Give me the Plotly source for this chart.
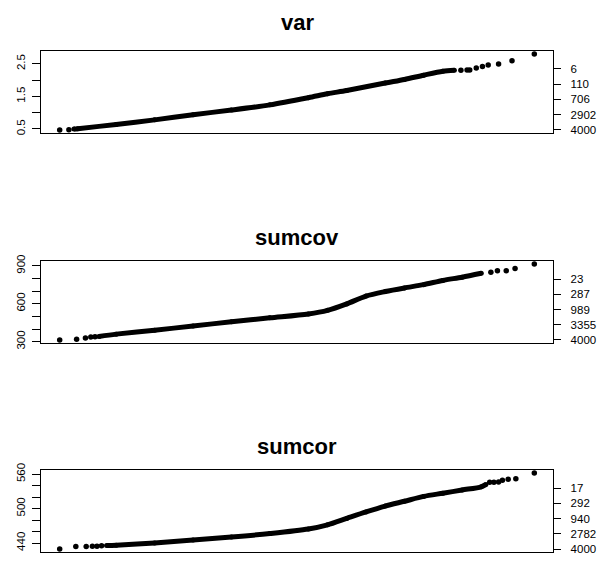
import plotly.graph_objects as go

# ---- data: theoretical normal quantiles (q) vs sorted values ----
# panel "var"
var_band_q = [-3.441, -3.381, -2.789, -2.196, -1.603, -1.011, -0.418, 0.175, 0.471, 0.767,
              1.360, 1.657, 1.953, 2.249, 2.427]
var_band_v = [0.50, 0.51, 0.64, 0.78, 0.94, 1.08, 1.24, 1.46, 1.58, 1.68,
              1.91, 2.02, 2.15, 2.27, 2.30]
var_dot_q = [-3.66, -3.518, 2.528, 2.623, 2.664, 2.765, 2.860, 2.949, 3.109, 3.316, 3.66]
var_dot_v = [0.47, 0.48, 2.30, 2.31, 2.31, 2.37, 2.42, 2.46, 2.49, 2.59, 2.80]
var_left_ticks = [0.5, 1.0, 1.5, 2.0, 2.5]
var_left_labels = ["0.5", "", "1.5", "", "2.5"]
var_right_ticks = [0.473, 0.94, 1.406, 1.873, 2.34]
var_right_labels = ["4000", "2902", "706", "110", "6"]

# panel "sumcov"
sumcov_band_q = [-3.055, -2.789, -2.196, -1.603, -1.011, -0.418, 0.175, 0.471, 0.767, 1.064,
                 1.360, 1.657, 1.953, 2.249, 2.546, 2.842]
sumcov_band_v = [341.4, 359.4, 390.4, 423.8, 457.2, 488.2, 519.0, 547.4, 598.8, 660.6,
                 696.6, 725.0, 750.7, 784.2, 809.9, 840.8]
sumcov_dot_q = [-3.66, -3.399, -3.263, -3.180, -3.115, 2.990, 3.091, 3.227, 3.363, 3.66]
sumcov_dot_v = [313.0, 318.3, 328.6, 336.3, 338.9, 848.5, 861.4, 861.4, 879.4, 914.0]
sumcov_left_ticks = [300, 400, 500, 600, 700, 800, 900]
sumcov_left_labels = ["300", "", "", "600", "", "", "900"]
sumcov_right_ticks = [314, 434, 554, 674, 794]
sumcov_right_labels = ["4000", "3355", "989", "287", "23"]

# panel "sumcor"
sumcor_band_q = [-2.937, -2.789, -2.196, -1.603, -1.011, -0.418, 0.175, 0.471, 0.767, 1.064,
                 1.360, 1.657, 1.953, 2.249, 2.546, 2.842, 2.913]
sumcor_band_v = [435.7, 436.3, 440.2, 445.3, 450.4, 456.5, 464.4, 471.7, 483.0, 494.2,
                 504.4, 512.8, 521.3, 526.9, 532.5, 538.1, 542.1]
sumcor_dot_q = [-3.66, -3.411, -3.251, -3.156, -3.085, -3.014, 2.972, 3.037, 3.109, 3.168,
                3.257, 3.375, 3.66]
sumcor_dot_v = [429.5, 434.0, 434.0, 434.6, 434.6, 435.2, 546.0, 546.0, 546.6, 549.4,
                551.1, 552.2, 562.0]
sumcor_left_ticks = [440, 460, 480, 500, 520, 540, 560]
sumcor_left_labels = ["440", "", "", "500", "", "", "560"]
sumcor_right_ticks = [429.2, 455.8, 482.4, 509.0, 535.5]
sumcor_right_labels = ["4000", "2782", "940", "292", "17"]

titles = ["var", "sumcov", "sumcor"]

panels = [
    (var_band_q, var_band_v, var_dot_q, var_dot_v, var_left_ticks, var_left_labels,
     var_right_ticks, var_right_labels),
    (sumcov_band_q, sumcov_band_v, sumcov_dot_q, sumcov_dot_v, sumcov_left_ticks,
     sumcov_left_labels, sumcov_right_ticks, sumcov_right_labels),
    (sumcor_band_q, sumcor_band_v, sumcor_dot_q, sumcor_dot_v, sumcor_left_ticks,
     sumcor_left_labels, sumcor_right_ticks, sumcor_right_labels),
]

W, H = 603, 562
box_tops = [45, 260, 474]
title_gap = [29, 24, 24]
box_h = 84
x_left, x_right = 40.7, 553.3
FONT = "Liberation Sans, Arial, Helvetica, sans-serif"

fig = go.Figure()
layout = dict(
    width=W, height=H, margin=dict(l=0, r=0, t=0, b=0),
    paper_bgcolor="white", plot_bgcolor="white", showlegend=False,
    font=dict(family=FONT, color="black", size=11.5),
)
annotations = []

for i, (bq, bv, dq, dv, lt, ll, rt, rl) in enumerate(panels):
    n = i + 1
    xa = "x" if n == 1 else f"x{n}"
    ya_left = f"y{2*n-1}" if n > 1 else "y"
    ya_right = f"y{2*n}"
    xkey = "xaxis" if n == 1 else f"xaxis{n}"
    ykey_l = "yaxis" if ya_left == "y" else f"yaxis{2*n-1}"
    ykey_r = f"yaxis{2*n}"

    allq = bq + dq
    allv = bv + dv
    qlo, qhi = min(allq), max(allq)
    vlo, vhi = min(allv), max(allv)
    qpad = 0.04 * (qhi - qlo)
    vpad = 0.04 * (vhi - vlo)
    xr = [qlo - qpad, qhi + qpad]
    yr = [vlo - vpad, vhi + vpad]

    top = box_tops[i]
    dom_y = [1 - (top + box_h) / H, 1 - top / H]
    dom_x = [x_left / W, x_right / W]

    fig.add_trace(go.Scatter(
        x=bq, y=bv, mode="lines+markers", xaxis=xa, yaxis=ya_left,
        line=dict(color="black", width=5, shape="spline", smoothing=0.8),
        marker=dict(color="black", size=5), hoverinfo="skip"))
    fig.add_trace(go.Scatter(
        x=dq, y=dv, mode="markers", xaxis=xa, yaxis=ya_left,
        marker=dict(color="black", size=5.5), hoverinfo="skip"))
    # invisible trace to carry the right axis
    fig.add_trace(go.Scatter(
        x=dq, y=dv, mode="markers", xaxis=xa, yaxis=ya_right,
        marker=dict(color="rgba(0,0,0,0)", size=1), hoverinfo="skip"))

    layout[xkey] = dict(
        domain=dom_x, range=xr, anchor=ya_left, showgrid=False, zeroline=False,
        showticklabels=False, ticks="", showline=True, linecolor="black",
        linewidth=1, mirror=True, fixedrange=True)
    layout[ykey_l] = dict(
        domain=dom_y, range=yr, anchor=xa, side="left", showgrid=False,
        zeroline=False, tickmode="array", tickvals=lt, ticktext=ll,
        ticks="outside", ticklen=8, tickwidth=1, tickcolor="black",
        tickangle=-90, showline=True, linecolor="black", linewidth=1,
        mirror=True, ticklabelstandoff=2,
        tickfont=dict(size=11.5, family=FONT, color="black"))
    layout[ykey_r] = dict(
        range=yr, overlaying=ya_left, anchor=xa, side="right", showgrid=False,
        zeroline=False, tickmode="array", tickvals=rt, ticktext=rl,
        ticks="outside", ticklen=7, tickwidth=1, tickcolor="black",
        showline=False, ticklabelstandoff=7,
        tickfont=dict(size=11.5, family=FONT, color="black"))

    annotations.append(dict(
        text=f"<b>{titles[i]}</b>", x=(dom_x[0] + dom_x[1]) / 2, xref="paper",
        y=1 - (top - title_gap[i]) / H, yref="paper", xanchor="center",
        yanchor="middle", showarrow=False,
        font=dict(size=22, family=FONT, color="black")))

layout["annotations"] = annotations
fig.update_layout(**layout)
fig.write_html("out.html")
